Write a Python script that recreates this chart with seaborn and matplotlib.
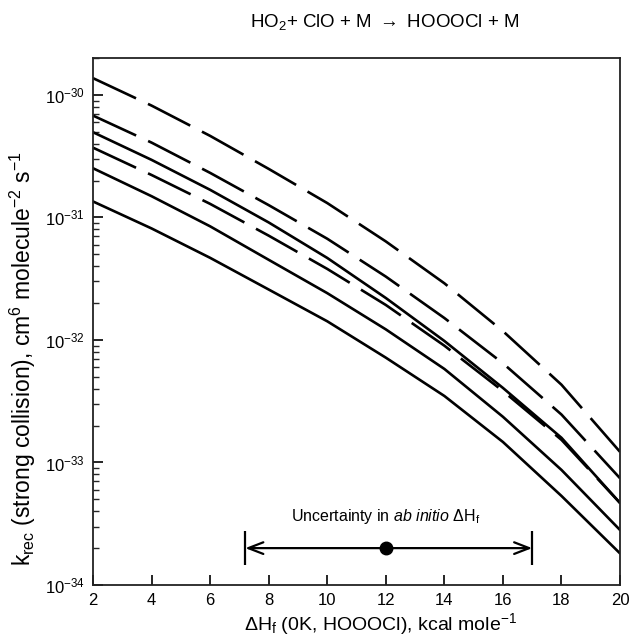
import numpy as np
import pandas as pd
import matplotlib
matplotlib.use('Agg')
import matplotlib.pyplot as plt
import seaborn as sns
from matplotlib.ticker import FixedLocator, LogFormatterSciNotation, NullFormatter

# enthalpy of formation of HOOOCl, kcal/mole
dh_f = [2, 4, 6, 8, 10, 12, 14, 16, 18, 20]

# k_rec (strong collision), cm^6 molecule^-2 s^-1
k_dash_1 = [1.37e-30, 8.18e-31, 4.63e-31, 2.49e-31, 1.31e-31, 6.37e-32, 2.90e-32, 1.18e-32, 4.31e-33, 1.22e-33]
k_dash_2 = [6.78e-31, 4.08e-31, 2.31e-31, 1.26e-31, 6.70e-32, 3.29e-32, 1.51e-32, 6.45e-33, 2.46e-33, 7.43e-34]
k_solid_1 = [4.96e-31, 2.95e-31, 1.68e-31, 9.10e-32, 4.67e-32, 2.20e-32, 9.81e-33, 4.06e-33, 1.59e-33, 4.67e-34]
k_dash_3 = [3.71e-31, 2.22e-31, 1.29e-31, 7.10e-32, 3.80e-32, 1.93e-32, 8.98e-33, 3.83e-33, 1.53e-33, 4.67e-34]
k_solid_2 = [2.52e-31, 1.49e-31, 8.46e-32, 4.51e-32, 2.41e-32, 1.22e-32, 5.80e-33, 2.36e-33, 8.69e-34, 2.81e-34]
k_solid_3 = [1.35e-31, 8.13e-32, 4.68e-32, 2.58e-32, 1.42e-32, 7.17e-33, 3.49e-33, 1.47e-33, 5.33e-34, 1.81e-34]

y_decades = [1e-34, 1e-33, 1e-32, 1e-31, 1e-30]

# ab initio value and its uncertainty range
dh_abinitio = 12.0
dh_low = 7.2
dh_high = 17.0
bar_k = 2.0e-34

sns.set_theme(style='ticks')
plt.rcParams['font.family'] = ['Liberation Sans', 'DejaVu Sans']
plt.rcParams['mathtext.fontset'] = 'custom'
plt.rcParams['mathtext.rm'] = 'Liberation Sans'
plt.rcParams['mathtext.it'] = 'Liberation Sans:italic'
plt.rcParams['mathtext.bf'] = 'Liberation Sans:bold'

fig = plt.figure(figsize=(6.34, 6.39), dpi=100)
ax = fig.add_axes([0.1467, 0.0845, 0.8313, 0.8247])

long_dash = (0, (18, 5))
curves = [
    (k_dash_1, long_dash),
    (k_dash_2, long_dash),
    (k_solid_1, '-'),
    (k_dash_3, long_dash),
    (k_solid_2, '-'),
    (k_solid_3, '-'),
]
for k_vals, ls in curves:
    df = pd.DataFrame({'dh': dh_f, 'k': k_vals})
    sns.lineplot(data=df, x='dh', y='k', ax=ax, color='black',
                 linewidth=1.9, linestyle=ls, legend=False)

ax.set_yscale('log')
ax.set_xlim(2, 20)
ax.set_ylim(1e-34, 2e-30)

# uncertainty bar
ax.annotate('', xy=(dh_low, bar_k), xytext=(dh_high, bar_k),
            arrowprops=dict(arrowstyle='<->,head_length=0.9,head_width=0.35',
                            color='black', lw=1.6, shrinkA=0, shrinkB=0))
ax.vlines([dh_low, dh_high], 1.45e-34, 2.75e-34, color='black', lw=1.6)
ax.plot([dh_abinitio], [bar_k], 'o', color='black', markersize=9)
ax.text(dh_abinitio, 3.6e-34, r'Uncertainty in $\it{ab\ initio}$ $\Delta$H$_\mathrm{f}$',
        ha='center', va='center', fontsize=11.5, color='black')

ax.set_xticks(range(2, 21, 2))
minor_y = [m * d for d in y_decades for m in range(2, 10) if m * d <= 2e-30]
ax.yaxis.set_major_locator(FixedLocator(y_decades))
ax.yaxis.set_minor_locator(FixedLocator(minor_y))
ax.yaxis.set_major_formatter(LogFormatterSciNotation())
ax.yaxis.set_minor_formatter(NullFormatter())
ax.tick_params(axis='both', which='major', direction='in', length=7, width=1.2,
               labelsize=12, colors='black', pad=6)
ax.tick_params(axis='y', which='minor', direction='in', length=4, width=1.0)
ax.tick_params(axis='x', which='minor', bottom=False)

for sp in ax.spines.values():
    sp.set_visible(True)
    sp.set_linewidth(1.3)
    sp.set_color('#222222')

ax.set_xlabel(r'$\Delta$H$_\mathrm{f}$ (0K, HOOOCl), kcal mole$^{-1}$', fontsize=14, color='black')
ax.set_ylabel(r'k$_\mathrm{rec}$ (strong collision), cm$^6$ molecule$^{-2}$ s$^{-1}$', fontsize=16.5, color='black')
ax.xaxis.set_label_coords(0.546, -0.05)
ax.yaxis.set_label_coords(-0.105, 0.43)

fig.text(0.606, 0.965, r'HO$_2$+ ClO + M $\rightarrow$ HOOOCl + M', ha='center', va='center',
         fontsize=13.5, color='black')

fig.savefig('out.png', dpi=100, facecolor='white')
